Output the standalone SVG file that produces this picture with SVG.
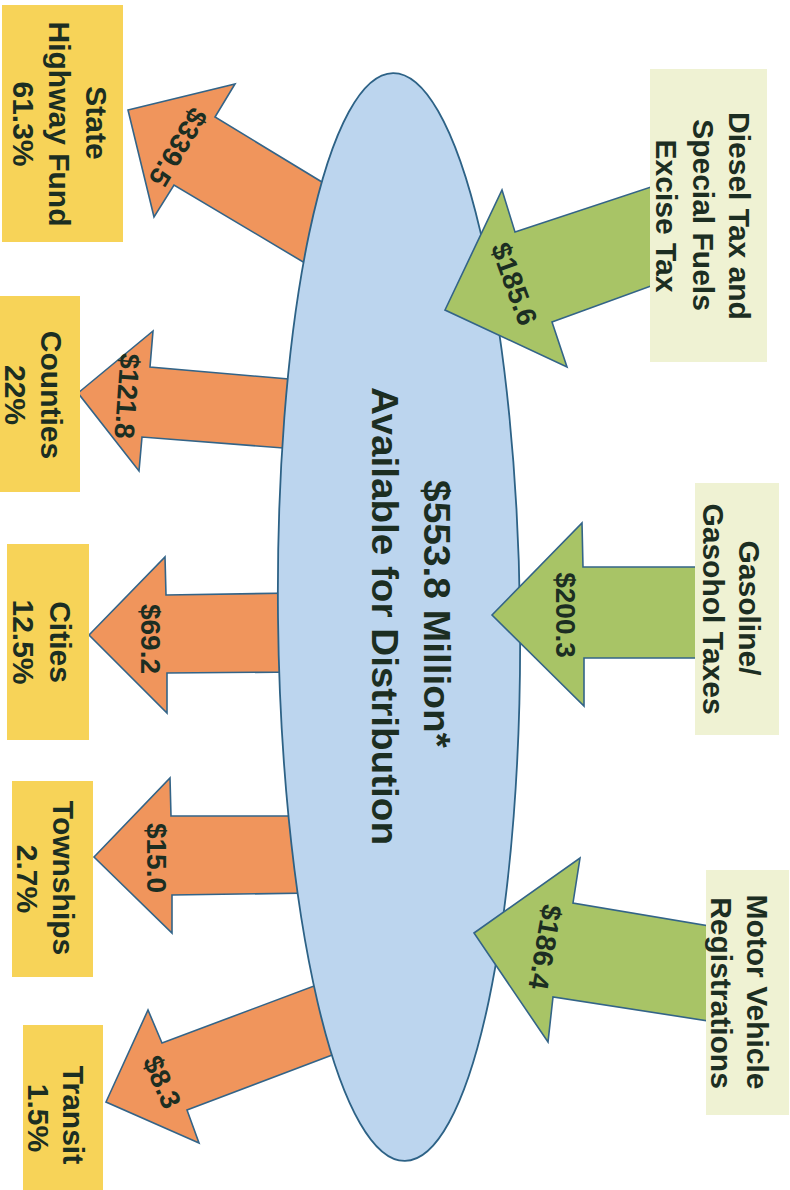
<svg xmlns="http://www.w3.org/2000/svg" width="790" height="1190" viewBox="0 0 790 1190">
<style>
.t{font-family:"Liberation Sans",Arial,sans-serif;font-weight:bold;fill:#1c2e22;text-anchor:middle}
.bx{font-size:30px}
.lb{font-size:28px;dominant-baseline:central}
.ctr{font-size:36px}
.out{fill:#f0955c;stroke:#336488;stroke-width:1.6;stroke-linejoin:miter}
.in{fill:#a8c466;stroke:#336488;stroke-width:1.6;stroke-linejoin:miter}
.ybox{fill:#f7d358}
.gbox{fill:#eff2d3}
</style>
<rect width="790" height="1190" fill="#ffffff"/>
<g id="connectors-out">
<polygon class="out" points="128,110 235,84 215,117 340,193 320,272 174,185 154,217"/>
<polygon class="out" points="78,393 153,331 150,367 300,380 296,449 142,437 139,471"/>
<polygon class="out" points="89,635 165,557 166,595 295,593 296,672 167,673 167,713"/>
<polygon class="out" points="94,857 170,778 171,816 305,816 312,893 172,895 172,933"/>
<polygon class="out" points="106,1102 148,1010 162,1043 330,980 348,1049 187,1110 199,1143"/>
</g>
<g id="pool">
<ellipse cx="399" cy="617" rx="121" ry="544" transform="rotate(-0.63 399 617)" fill="#bcd5ee" stroke="#2d6286" stroke-width="1.8"/>
<text class="t ctr" transform="translate(424,614) rotate(90)" textLength="268" lengthAdjust="spacingAndGlyphs">$553.8 Million*</text>
<text class="t ctr" transform="translate(372,616) rotate(90)" textLength="458" lengthAdjust="spacingAndGlyphs">Available for Distribution</text>
</g>
<g id="connectors-in">
<polygon class="in" points="445,310 502,190 515,232 660,184 662,282 552,322 567,367"/>
<polygon class="in" points="492,615 582,523 583,567 705,567 705,658 584,658 584,706"/>
<polygon class="in" points="474,933 580,858 573,903 715,927 715,1022 553,997 548,1042"/>
</g>
<g id="connector-labels">
<text class="t lb" transform="translate(178,147) rotate(121)">$339.5</text>
<text class="t lb" transform="translate(127,396) rotate(94)">$121.8</text>
<text class="t lb" transform="translate(150,639) rotate(90)">$69.2</text>
<text class="t lb" transform="translate(156,858) rotate(90)">$15.0</text>
<text class="t lb" transform="translate(162,1082) rotate(66)">$8.3</text>
<text class="t lb" transform="translate(514,284) rotate(70)">$185.6</text>
<text class="t lb" transform="translate(565,615) rotate(90)">$200.3</text>
<text class="t lb" transform="translate(545,947) rotate(100)">$186.4</text>
</g>
<g id="state-highway-fund">
<rect class="ybox" x="2" y="5" width="121" height="237"/>
<text class="t bx" transform="translate(86,123) rotate(90)">State</text>
<text class="t bx" transform="translate(49,124) rotate(90)">Highway Fund</text>
<text class="t bx" transform="translate(13,124) rotate(90)">61.3%</text>
</g>
<g id="counties">
<rect class="ybox" x="0" y="296" width="80" height="196"/>
<text class="t bx" transform="translate(41,395) rotate(90)">Counties</text>
<text class="t bx" transform="translate(5,395) rotate(90)">22%</text>
</g>
<g id="cities">
<rect class="ybox" x="7" y="544" width="82" height="196"/>
<text class="t bx" transform="translate(50,642) rotate(90)">Cities</text>
<text class="t bx" transform="translate(13,642) rotate(90)">12.5%</text>
</g>
<g id="townships">
<rect class="ybox" x="12" y="781" width="81" height="196"/>
<text class="t bx" transform="translate(53,878) rotate(90)">Townships</text>
<text class="t bx" transform="translate(17,879) rotate(90)">2.7%</text>
</g>
<g id="transit">
<rect class="ybox" x="23" y="1025" width="80" height="165"/>
<text class="t bx" transform="translate(63,1115) rotate(90)">Transit</text>
<text class="t bx" transform="translate(28,1118) rotate(90)">1.5%</text>
</g>
<g id="diesel-tax">
<rect class="gbox" x="650" y="69" width="117" height="293"/>
<text class="t bx" transform="translate(729,216) rotate(90)">Diesel Tax and</text>
<text class="t bx" transform="translate(693,215) rotate(90)">Special Fuels</text>
<text class="t bx" transform="translate(656,216) rotate(90)">Excise Tax</text>
</g>
<g id="gasoline-taxes">
<rect class="gbox" x="695" y="483" width="84" height="252"/>
<text class="t bx" transform="translate(739,608) rotate(90)">Gasoline/</text>
<text class="t bx" transform="translate(703,609) rotate(90)">Gasohol Taxes</text>
</g>
<g id="motor-vehicle-registrations">
<rect class="gbox" x="706" y="870" width="83" height="245"/>
<text class="t bx" transform="translate(747,992) rotate(90)">Motor Vehicle</text>
<text class="t bx" transform="translate(711,993) rotate(90)">Registrations</text>
</g>
</svg>
